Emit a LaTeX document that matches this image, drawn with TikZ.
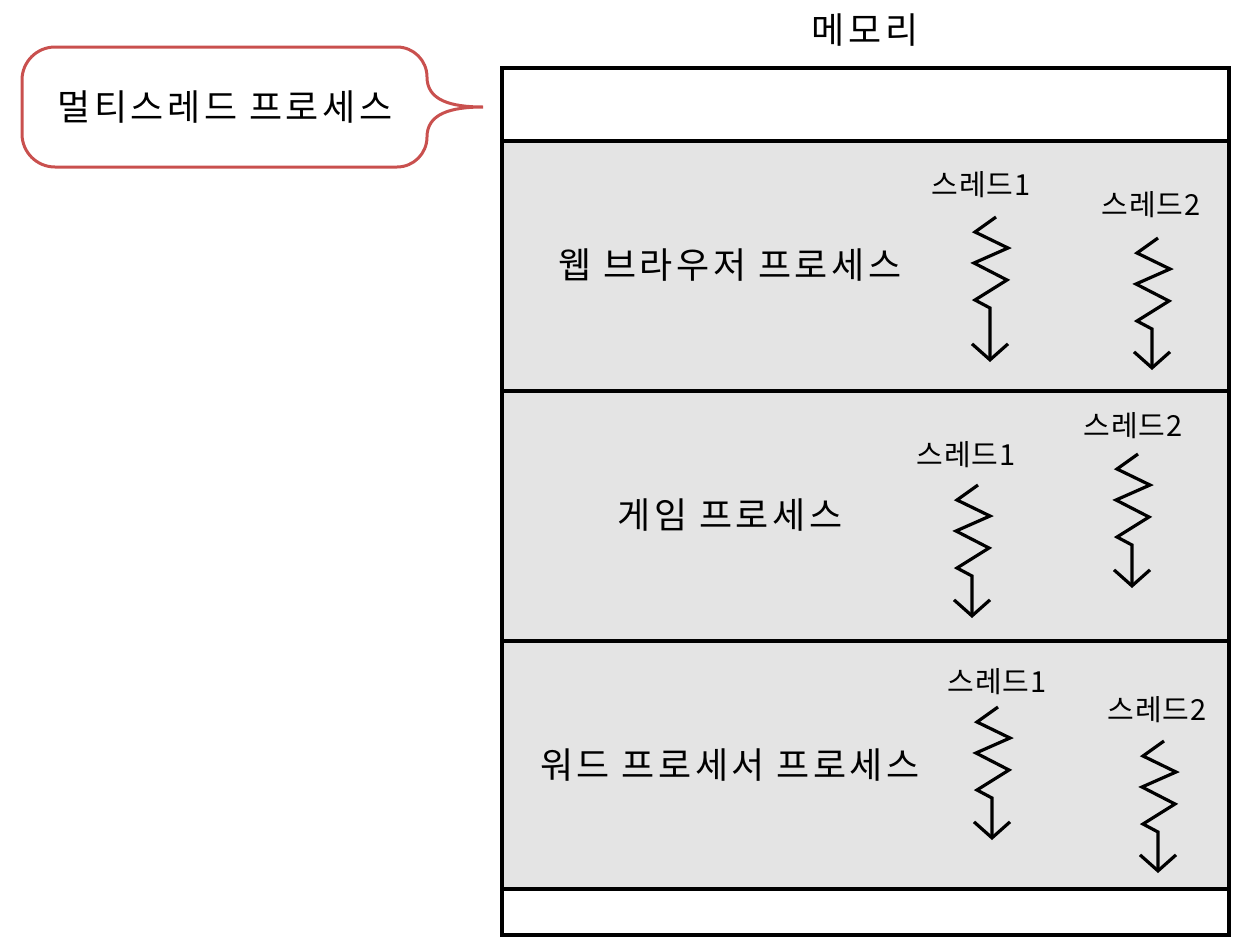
\documentclass[tikz,border=0pt]{standalone}
\usepackage{fontspec}
\newfontfamily\kr[LetterSpace=10]{Noto Sans CJK KR}
\newfontfamily\krsmall[LetterSpace=4]{Noto Sans CJK KR}
\usetikzlibrary{positioning,arrows.meta}
\definecolor{memgray}{HTML}{E4E4E4}
\definecolor{bubblered}{HTML}{C9504E}

\begin{document}
\begin{tikzpicture}[x=0.5pt,y=-0.5pt,
    proc/.style={font=\kr\fontsize{18}{21}\selectfont, inner sep=0pt},
    thrlabel/.style={font=\krsmall\fontsize{14.5}{17}\selectfont, inner sep=0pt},
    memline/.style={line width=1.6pt},
    bubble/.style={draw=bubblered, line width=1.5pt},
    thrline/.style={line width=1.6pt, line join=miter,
      -{Straight Barb[length=8pt,width=18pt]}},
    pics/thread/.style={code={
      \draw[thrline] (0,0) -- ++(-21,15) -- ++(33,16) -- ++(-34,15)
        -- ++(33,17) -- ++(-32,20) -- ++(15,8) -- ++(0,#1);}}]
  \useasboundingbox (0,0) rectangle (1254,948);
  %
  % memory
  \fill[memgray] (502,141) rectangle (1229,889);
  \draw[memline] (502,68) rectangle (1229,935);
  \foreach \y in {141,391,641,889}
    \draw[memline] (502,\y) -- (1229,\y);
  \node[proc] (mem) at (865,30) {메모리};
  %
  % callout
  \draw[bubble] (55,47) -- (397,47) arc[start angle=-90, end angle=0, radius=30]
    .. controls (427,100) and (450,107) .. (483,107)
    .. controls (450,107) and (427,114) .. (427,137)
    arc[start angle=0, end angle=90, radius=30] -- (55,167)
    arc[start angle=90, end angle=180, radius=33] -- (22,80)
    arc[start angle=180, end angle=270, radius=33] -- cycle;
  \node[proc] (multi) at (225,107) {멀티스레드 프로세스};
  %
  % processes
  \node[proc] (web) at (730,265) {웹 브라우저 프로세스};
  \node[proc] (game) at (730,515) {게임 프로세스};
  \node[proc] (word) at (730,765) {워드 프로세서 프로세스};
  %
  % threads
  \node[thrlabel] (web1) at (981,185) {스레드1};
  \node[thrlabel] (web2) at (1151,205) {스레드2};
  \node[thrlabel] (game1) at (966,455) {스레드1};
  \node[thrlabel] (game2) at (1133,426) {스레드2};
  \node[thrlabel] (word1) at (997,682) {스레드1};
  \node[thrlabel] (word2) at (1157,710) {스레드2};
  %
  \path (web1.center) ++(15,32) pic {thread=54};
  \path (web2.center) ++(7,33) pic {thread=41};
  \path (game1.center) ++(12,30) pic {thread=42};
  \path (game2.center) ++(5,28) pic {thread=43};
  \path (word1.center) ++(1,25) pic {thread=42};
  \path (word2.center) ++(7,31) pic {thread=41};
  %
\end{tikzpicture}
\end{document}
